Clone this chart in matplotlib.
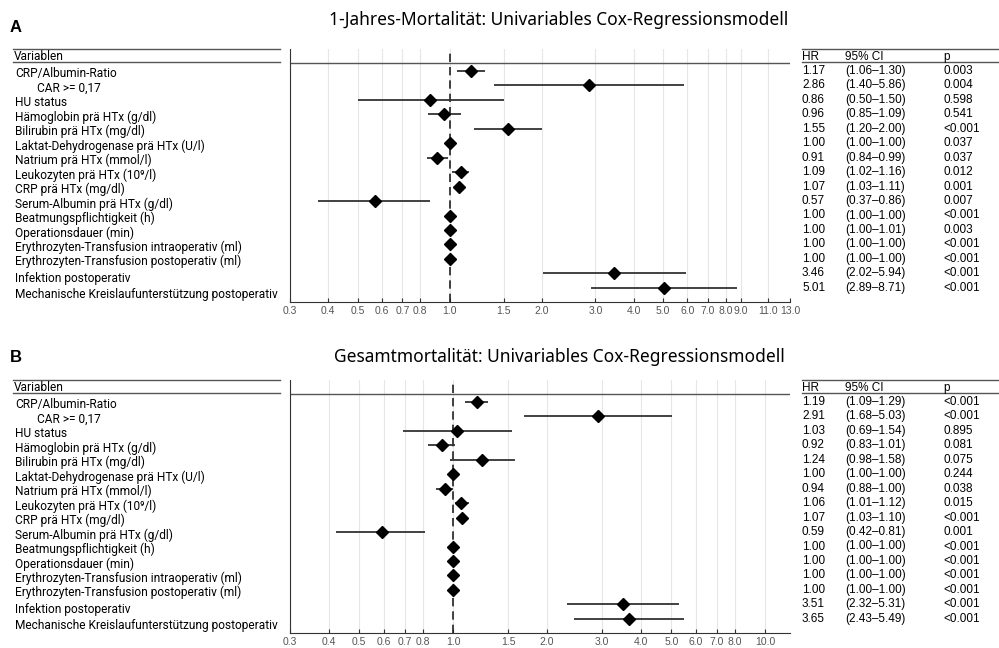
import numpy as np
import matplotlib.pyplot as plt
from matplotlib.ticker import NullLocator
from matplotlib.transforms import blended_transform_factory

# Univariable Cox-Regression, Hazard Ratios mit 95%-KI
variables = ["CRP/Albumin-Ratio", "CAR >= 0,17", "HU status",
             "Hämoglobin prä HTx (g/dl)", "Bilirubin prä HTx (mg/dl)",
             "Laktat-Dehydrogenase prä HTx (U/l)", "Natrium prä HTx (mmol/l)",
             "Leukozyten prä HTx (10⁹/l)", "CRP prä HTx (mg/dl)",
             "Serum-Albumin prä HTx (g/dl)", "Beatmungspflichtigkeit (h)",
             "Operationsdauer (min)", "Erythrozyten-Transfusion intraoperativ (ml)",
             "Erythrozyten-Transfusion postoperativ (ml)", "Infektion postoperativ",
             "Mechanische Kreislaufunterstützung postoperativ"]

# A: 1-Jahres-Mortalität
hr_a = [1.17, 2.86, 0.86, 0.96, 1.55, 1.00, 0.91, 1.09, 1.07, 0.57, 1.00, 1.00, 1.00, 1.00, 3.46, 5.01]
lo_a = [1.06, 1.40, 0.50, 0.85, 1.20, 1.00, 0.84, 1.02, 1.03, 0.37, 1.00, 1.00, 1.00, 1.00, 2.02, 2.89]
hi_a = [1.30, 5.86, 1.50, 1.09, 2.00, 1.00, 0.99, 1.16, 1.11, 0.86, 1.00, 1.01, 1.00, 1.00, 5.94, 8.71]
p_a = ["0.003", "0.004", "0.598", "0.541", "<0.001", "0.037", "0.037", "0.012",
       "0.001", "0.007", "<0.001", "0.003", "<0.001", "<0.001", "<0.001", "<0.001"]
ticks_a = [0.3, 0.4, 0.5, 0.6, 0.7, 0.8, 1.0, 1.5, 2.0, 3.0, 4.0, 5.0, 6.0, 7.0, 8.0, 9.0, 11.0, 13.0]

# B: Gesamtmortalität
hr_b = [1.19, 2.91, 1.03, 0.92, 1.24, 1.00, 0.94, 1.06, 1.07, 0.59, 1.00, 1.00, 1.00, 1.00, 3.51, 3.65]
lo_b = [1.09, 1.68, 0.69, 0.83, 0.98, 1.00, 0.88, 1.01, 1.03, 0.42, 1.00, 1.00, 1.00, 1.00, 2.32, 2.43]
hi_b = [1.29, 5.03, 1.54, 1.01, 1.58, 1.00, 1.00, 1.12, 1.10, 0.81, 1.00, 1.00, 1.00, 1.00, 5.31, 5.49]
p_b = ["<0.001", "<0.001", "0.895", "0.081", "0.075", "0.244", "0.038", "0.015",
       "<0.001", "0.001", "<0.001", "<0.001", "<0.001", "<0.001", "<0.001", "<0.001"]
ticks_b = [0.3, 0.4, 0.5, 0.6, 0.7, 0.8, 1.0, 1.5, 2.0, 3.0, 4.0, 5.0, 6.0, 7.0, 8.0, 10.0]

plt.rcParams['font.family'] = ['Noto Sans', 'DejaVu Sans']
ARIAL = ['Liberation Sans', 'DejaVu Sans']
LABEL = ['Roboto', 'DejaVu Sans']
W, H = 999, 648

fig = plt.figure(figsize=(W / 100, H / 100), dpi=100)


def panel(top, bottom, letter, title, title_y, letter_y, hr, lo, hi, pvals, ticks, xmax):
    ax = fig.add_axes([290 / W, 1 - bottom / H, 500 / W, (bottom - top) / H])
    rows = np.arange(len(hr))
    step = 14.45
    ax.set_xscale('log')
    ax.set_xlim(0.3, xmax)
    ax.set_ylim((bottom - top - 22) / step, -22 / step)

    ax.grid(axis='x', color='#e6e6e6', lw=0.8)
    ax.set_axisbelow(True)
    ax.axhline(-0.58, color='#555555', lw=1)
    ax.axvline(1.0, color='#222222', lw=1.2, ls=(0, (5, 3)), zorder=2)
    ax.hlines(rows, lo, hi, color='#333333', lw=1.3, zorder=3)
    ax.plot(hr, rows, 'D', color='black', ms=6.5, zorder=4)

    ax.set_xticks(ticks)
    ax.set_xticklabels([f'{t:.1f}' for t in ticks], family=ARIAL)
    ax.xaxis.set_minor_locator(NullLocator())
    ax.set_yticks([])
    ax.tick_params(axis='x', direction='in', length=3, labelsize=7.5,
                   labelcolor='#555555', color='#333333', pad=3)
    for s in ['top', 'right']:
        ax.spines[s].set_visible(False)
    ax.spines['left'].set_color('#333333')
    ax.spines['bottom'].set_color('#333333')

    tr = blended_transform_factory(fig.transFigure, ax.transData)
    ytop, yhead, ylab = -22 / step, -0.62, -0.97

    # linke Tabelle
    for y in (ytop, yhead):
        ax.plot([13 / W, 280 / W], [y, y], transform=tr, color='#555555', lw=1, clip_on=False)
    ax.text(14 / W, ylab, "Variablen", transform=tr, va='center', fontsize=8.6, family=LABEL)
    for i, name in enumerate(variables):
        x = 37 / W if i == 1 else 15 / W
        y = i + 0.2 + 0.14 * max(0, i - 13)
        ax.text(x, y, name, transform=tr, va='center', fontsize=8.6, family=LABEL)

    # rechte Tabelle
    for y in (ytop, yhead):
        ax.plot([802 / W, 1.0], [y, y], transform=tr, color='#555555', lw=1, clip_on=False)
    for x, head in [(802, "HR"), (845, "95% CI"), (943, "p")]:
        ax.text(x / W, ylab, head, transform=tr, va='center', fontsize=8.5, family=ARIAL)
    for i in rows:
        ax.text(802 / W, i, f'{hr[i]:.2f}', transform=tr, va='center', fontsize=8.5, family=ARIAL)
        ax.text(845 / W, i, f'({lo[i]:.2f}\u2013{hi[i]:.2f})', transform=tr, va='center',
                fontsize=8.5, family=ARIAL)
        ax.text(943 / W, i, pvals[i], transform=tr, va='center', fontsize=8.5, family=ARIAL)

    fig.text(559 / W, 1 - title_y / H, title, ha='center', va='center', fontsize=12.5)
    fig.text(10 / W, 1 - letter_y / H, letter, ha='left', va='center', fontsize=12,
             weight='bold', family=ARIAL)


panel(49, 302, 'A', '1-Jahres-Mortalität: Univariables Cox-Regressionsmodell', 20, 27,
      hr_a, lo_a, hi_a, p_a, ticks_a, 13.0)
panel(380, 633, 'B', 'Gesamtmortalität: Univariables Cox-Regressionsmodell', 357, 357,
      hr_b, lo_b, hi_b, p_b, ticks_b, 12.0)

fig.savefig('out.png', dpi=100)
